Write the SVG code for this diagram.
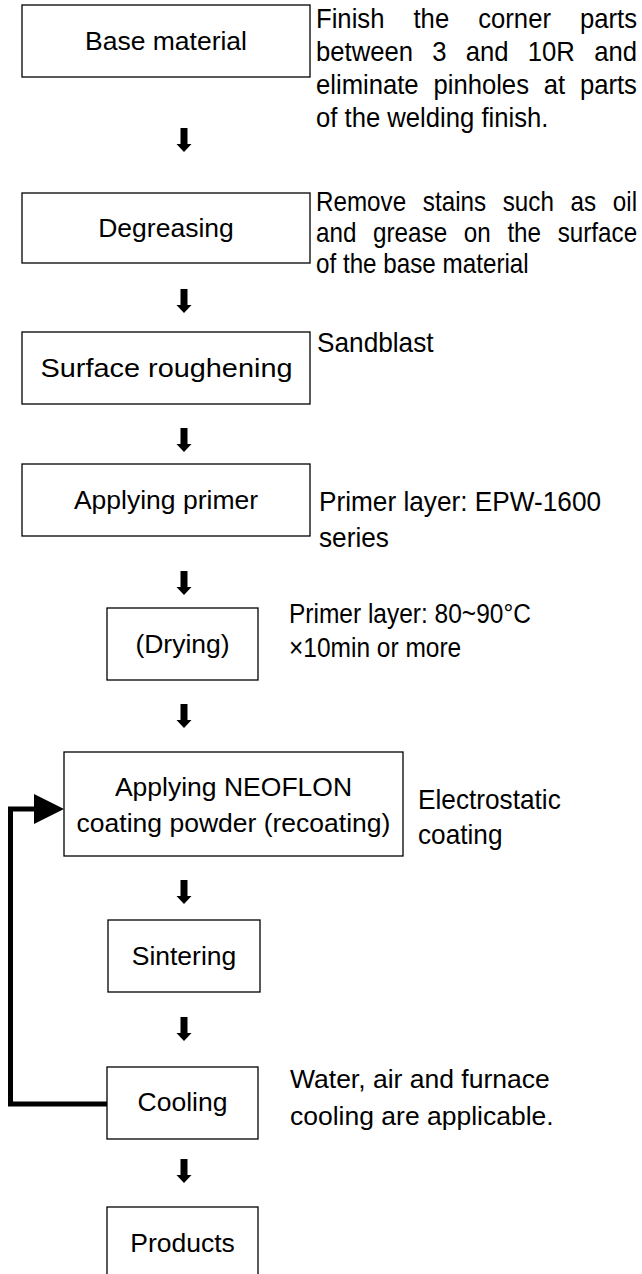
<svg xmlns="http://www.w3.org/2000/svg" width="642" height="1274" viewBox="0 0 642 1274">
<style>
.box{fill:#fff;stroke:#000;stroke-width:1.3}
.lbl{font-family:"Liberation Sans",Arial,sans-serif;font-size:26.5px;fill:#000;text-anchor:middle}
.note{font-family:"Liberation Sans",Arial,sans-serif;font-size:28.5px;fill:#000}
.plain{font-size:26.5px}
.small{font-size:28px}
.arr{fill:#000}
.fb{fill:none;stroke:#000;stroke-width:5;stroke-linejoin:miter}
</style>
<defs>
<path id="dn" d="M-3.5,0 h7 v16 h4 l-7.5,8 l-7.5,-8 h4 z"/>
</defs>
<rect width="642" height="1274" fill="#fff"/>
<g id="connectors">
<use href="#dn" class="arr" x="184" y="128"/>
<use href="#dn" class="arr" x="184" y="289"/>
<use href="#dn" class="arr" x="184" y="428"/>
<use href="#dn" class="arr" x="184" y="571"/>
<use href="#dn" class="arr" x="184" y="704"/>
<use href="#dn" class="arr" x="184" y="880"/>
<use href="#dn" class="arr" x="184" y="1017"/>
<use href="#dn" class="arr" x="184" y="1159"/>
<polyline class="fb" points="107,1104 10.5,1104 10.5,809 36,809"/>
<polygon class="arr" points="34,794 64,809 34,824"/>
</g>
<g id="n-base"><rect class="box" x="22" y="5" width="288" height="72"/><text class="lbl" x="166" y="50">Base material</text></g>
<g id="n-degrease"><rect class="box" x="22" y="193" width="288" height="70"/><text class="lbl" x="166" y="237">Degreasing</text></g>
<g id="n-rough"><rect class="box" x="22" y="332" width="288" height="72"/><text class="lbl" x="166.5" y="377" font-size="28" textLength="252" lengthAdjust="spacingAndGlyphs">Surface roughening</text></g>
<g id="n-primer"><rect class="box" x="22" y="464" width="288" height="72"/><text class="lbl" x="166" y="509" font-size="27.5">Applying primer</text></g>
<g id="n-drying"><rect class="box" x="107" y="608" width="151" height="72"/><text class="lbl" x="182.5" y="653">(Drying)</text></g>
<g id="n-neoflon"><rect class="box" x="64" y="752" width="339" height="104"/><text class="lbl" x="233.5" y="796">Applying NEOFLON</text><text class="lbl" x="233.5" y="832">coating powder (recoating)</text></g>
<g id="n-sinter"><rect class="box" x="108" y="920" width="152" height="72"/><text class="lbl" x="184" y="965">Sintering</text></g>
<g id="n-cool"><rect class="box" x="107" y="1067" width="151" height="72"/><text class="lbl" x="182.5" y="1111">Cooling</text></g>
<g id="n-products"><rect class="box" x="107" y="1207" width="151" height="90"/><text class="lbl" x="182.5" y="1252">Products</text></g>
<g id="notes">
<text class="note" transform="matrix(0.9 0 0 1 316 0)"><tspan x="0" y="28" word-spacing="24.4">Finish the corner parts</tspan><tspan x="0" y="61" word-spacing="13.5">between 3 and 10R and</tspan><tspan x="0" y="94" word-spacing="8.5">eliminate pinholes at parts</tspan><tspan x="0" y="127">of the welding finish.</tspan></text>
<text class="note" transform="matrix(0.85 0 0 1 316 0)"><tspan x="0" y="211" word-spacing="11.7">Remove stains such as oil</tspan><tspan x="0" y="242" word-spacing="11.7">and grease on the surface</tspan><tspan x="0" y="273">of the base material</tspan></text>
<text class="note" transform="matrix(0.92 0 0 1 317 0)" x="0" y="352">Sandblast</text>
<text class="note" transform="matrix(0.92 0 0 1 319 0)"><tspan x="0" y="511">Primer layer: EPW-1600</tspan><tspan x="0" y="547">series</tspan></text>
<text class="note small" transform="matrix(0.875 0 0 1 289 0)"><tspan x="0" y="623">Primer layer: 80~90°C</tspan><tspan x="0" y="657">×10min or more</tspan></text>
<text class="note" transform="matrix(0.92 0 0 1 418 0)"><tspan x="0" y="809">Electrostatic</tspan><tspan x="0" y="844">coating</tspan></text>
<text class="note plain"><tspan x="290" y="1088">Water, air and furnace</tspan><tspan x="290" y="1125">cooling are applicable.</tspan></text>
</g>
</svg>
